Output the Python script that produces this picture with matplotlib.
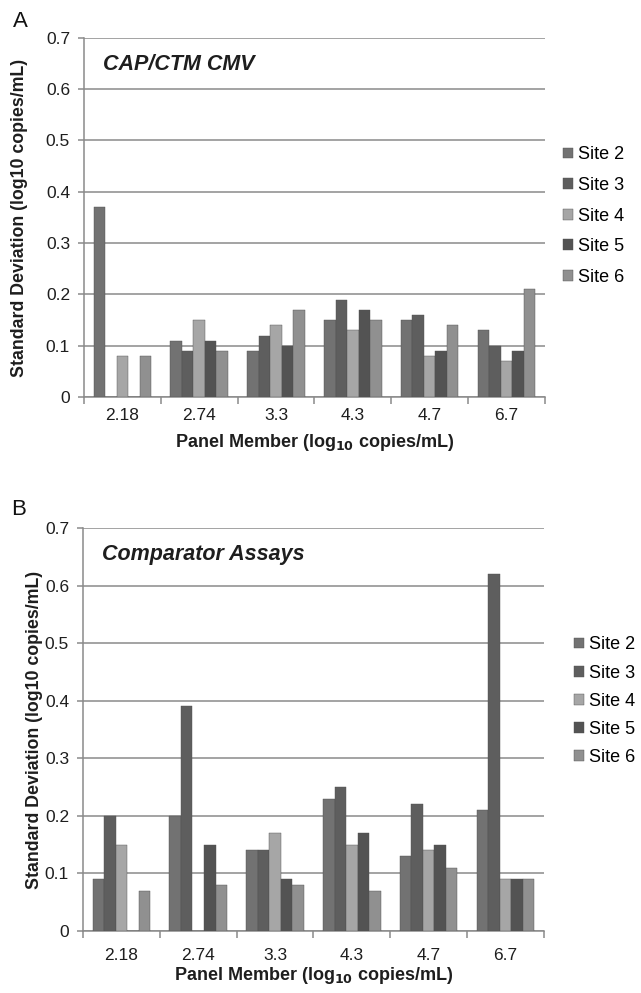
import numpy as np
import matplotlib
matplotlib.use("Agg")
import matplotlib.pyplot as plt

plt.rcParams['font.family'] = ['Liberation Sans', 'DejaVu Sans']

panels = ['2.18', '2.74', '3.3', '4.3', '4.7', '6.7']
sites = ['Site 2', 'Site 3', 'Site 4', 'Site 5', 'Site 6']
site_colors = ['#727272', '#5e5e5e', '#a6a6a6', '#535353', '#909090']

# standard deviations, one list per site (order follows panels)
cap_site2 = [0.37, 0.11, 0.09, 0.15, 0.15, 0.13]
cap_site3 = [0.00, 0.09, 0.12, 0.19, 0.16, 0.10]
cap_site4 = [0.08, 0.15, 0.14, 0.13, 0.08, 0.07]
cap_site5 = [0.00, 0.11, 0.10, 0.17, 0.09, 0.09]
cap_site6 = [0.08, 0.09, 0.17, 0.15, 0.14, 0.21]

cmp_site2 = [0.09, 0.20, 0.14, 0.23, 0.13, 0.21]
cmp_site3 = [0.20, 0.39, 0.14, 0.25, 0.22, 0.62]
cmp_site4 = [0.15, 0.00, 0.17, 0.15, 0.14, 0.09]
cmp_site5 = [0.00, 0.15, 0.09, 0.17, 0.15, 0.09]
cmp_site6 = [0.07, 0.08, 0.08, 0.07, 0.11, 0.09]

grid_col = '#8a8a8a'
txt_col = '#1e1e1e'


def draw_panel(ax, series, title, letter, title_y, ylab_x, leg_xy,
               leg_space, xpad, xlab_pad):
    x = np.arange(len(panels))
    w = 0.15
    for i, (vals, col, lab) in enumerate(zip(series, site_colors, sites)):
        ax.bar(x + (i - 2) * w, vals, w, color=col, label=lab,
               edgecolor='#505050', linewidth=0.3, zorder=3)
    ax.set_xlim(-0.5, len(panels) - 0.5)
    ax.set_ylim(0, 0.7)
    ax.set_yticks(np.arange(0, 0.71, 0.1))
    ax.set_yticklabels(['0'] + ['%.1f' % v for v in np.arange(0.1, 0.71, 0.1)])
    ax.yaxis.grid(True, color=grid_col, linewidth=1.1, zorder=0)
    ax.set_axisbelow(True)
    ax.set_xticks(x)
    ax.set_xticklabels(panels)
    ax.set_xticks(np.arange(-0.5, len(panels), 1), minor=True)
    ax.tick_params(axis='x', which='major', length=0, labelsize=12.5,
                   pad=xpad, labelcolor=txt_col)
    ax.tick_params(axis='x', which='minor', length=5, color=grid_col,
                   width=1.1, direction='out')
    ax.tick_params(axis='y', length=4, color=grid_col, width=1.1,
                   labelsize=12.5, pad=6, labelcolor=txt_col)
    for s in ['top', 'right']:
        ax.spines[s].set_visible(False)
    for s in ['left', 'bottom']:
        ax.spines[s].set_color(grid_col)
        ax.spines[s].set_linewidth(1.1)
    ax.set_ylabel('Standard Deviation (log10 copies/mL)', fontsize=12.8,
                  fontweight='bold', color=txt_col)
    ax.yaxis.set_label_coords(ylab_x, 0.5)
    ax.set_xlabel('Panel Member (log$_{\\mathbf{10}}$ copies/mL)', fontsize=13,
                  fontweight='bold', color=txt_col, labelpad=xlab_pad)
    ax.text(0.041, title_y, title, transform=ax.transAxes, fontsize=15.5,
            fontweight='bold', fontstyle='italic', color=txt_col,
            va='center', ha='left')
    ax.text(-0.155, 1.046, letter, transform=ax.transAxes, fontsize=16,
            ha='left', va='center', color='#111111')
    ax.legend(loc='center left', bbox_to_anchor=leg_xy, frameon=False,
              fontsize=13, handlelength=0.55, handleheight=0.55,
              handletextpad=0.28, labelspacing=leg_space, borderaxespad=0,
              borderpad=0)


fig = plt.figure(figsize=(6.41, 9.93), dpi=100)
ax_a = fig.add_axes([0.131, 0.600, 0.719, 0.362])
ax_b = fig.add_axes([0.1295, 0.0624, 0.719, 0.4059])

draw_panel(ax_a, [cap_site2, cap_site3, cap_site4, cap_site5, cap_site6],
           'CAP/CTM CMV', 'A', 0.925, -0.121, (1.04, 0.504), 0.75, 8, 6)
draw_panel(ax_b, [cmp_site2, cmp_site3, cmp_site4, cmp_site5, cmp_site6],
           'Comparator Assays', 'B', 0.933, -0.087, (1.065, 0.57), 0.62,
           12, 2)

fig.savefig('out.png', dpi=100)
